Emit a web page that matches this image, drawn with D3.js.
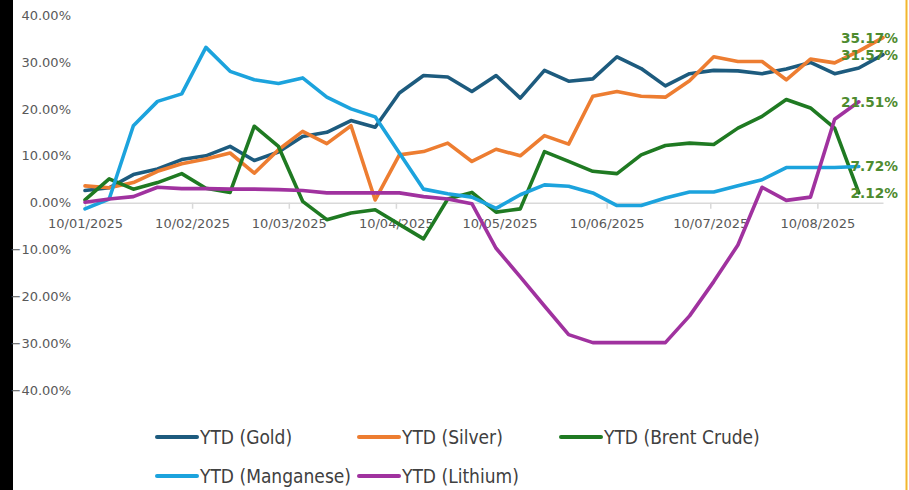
<!DOCTYPE html>
<html><head><meta charset="utf-8">
<script src="https://cdn.jsdelivr.net/npm/d3@7"></script>
<style>body{margin:0;background:#fff}svg{display:block}</style>
</head><body>
<svg id="c" width="909" height="490"></svg>
<script>
// ---- data ----
const dates = ["2025-01-10","2025-01-17","2025-01-24","2025-01-31","2025-02-07","2025-02-14","2025-02-21","2025-02-28",
  "2025-03-07","2025-03-14","2025-03-21","2025-03-28","2025-04-04","2025-04-11","2025-04-18","2025-04-25",
  "2025-05-02","2025-05-09","2025-05-16","2025-05-23","2025-05-30","2025-06-06","2025-06-13","2025-06-20","2025-06-27",
  "2025-07-04","2025-07-11","2025-07-18","2025-07-25","2025-08-01","2025-08-08","2025-08-15","2025-08-22","2025-08-29"];
const gold = [2.6,3.2,6.0,7.2,9.2,10.0,12.0,9.0,10.8,14.1,15.0,17.5,16.1,23.4,27.1,26.8,23.7,27.1,22.3,28.2,25.9,26.4,31.1,28.6,24.9,27.5,28.2,28.1,27.5,28.5,29.9,27.5,28.7,31.57];
const silver = [3.6,3.2,4.3,6.7,8.3,9.3,10.6,6.3,11.3,15.2,12.6,16.4,0.6,10.2,10.9,12.7,8.8,11.4,10.0,14.3,12.5,22.7,23.7,22.7,22.5,26.0,31.1,30.1,30.1,26.2,30.6,29.8,32.3,35.17];
const brent = [0.6,5.1,2.9,4.3,6.2,3.1,2.2,16.3,12.0,0.3,-3.6,-2.2,-1.5,-4.6,-7.7,0.8,2.2,-2.0,-1.3,10.9,8.8,6.7,6.2,10.2,12.2,12.7,12.4,15.9,18.4,22.0,20.2,15.9,2.12,null];
const manganese = [-1.3,0.8,16.4,21.6,23.2,33.1,28.0,26.2,25.4,26.6,22.5,20.0,18.3,10.6,2.9,1.9,1.2,-1.2,1.7,3.8,3.5,2.1,-0.6,-0.6,1.0,2.3,2.3,3.6,4.9,7.5,7.5,7.5,7.72,null];
const lithium = [0.1,0.8,1.3,3.3,3.0,3.0,2.9,2.9,2.8,2.6,2.1,2.1,2.1,2.1,1.3,0.8,-0.2,-9.7,-15.8,-22.0,-28.1,-29.8,-29.8,-29.8,-29.8,-24.1,-16.8,-9.0,3.3,0.5,1.2,17.8,21.51,null];
const seriesNames = ["YTD (Gold)","YTD (Silver)","YTD (Brent Crude)","YTD (Manganese)","YTD (Lithium)"];
const seriesColors = ["#1d5b7e","#ed7d31","#1f7a22","#1ca3dd","#a0329f"];
const xTickDates = ["2025-01-10","2025-02-10","2025-03-10","2025-04-10","2025-05-10","2025-06-10","2025-07-10","2025-08-10"];
const yTicks = [0.4,0.3,0.2,0.1,0,-0.1,-0.2,-0.3,-0.4];

// ---- chart ----
const W = 909, H = 490;
const parse = d3.timeParse("%Y-%m-%d");
const dts = dates.map(parse);
const all = [gold, silver, brent, manganese, lithium];
const svg = d3.select("#c");
svg.append("rect").attr("x",0).attr("y",0).attr("width",W).attr("height",H).attr("fill","#fff");
svg.append("rect").attr("x",0).attr("y",0).attr("width",13).attr("height",H).attr("fill","#000");
svg.append("line").attr("x1",W-2.5).attr("x2",W-2.5).attr("y1",0).attr("y2",H).attr("stroke","#f2b62c").attr("stroke-width",2);

const x = d3.scaleTime().domain([dts[0], dts[dts.length-1]]).range([85, 883]);
const y = d3.scaleLinear().domain([-0.4, 0.4]).range([390.5, 15]);

// y axis
const ya = svg.append("g").attr("transform","translate(74,0)")
  .call(d3.axisLeft(y).tickValues(yTicks).tickSize(0).tickPadding(3).tickFormat(d3.format(".2%")));
ya.select(".domain").remove();
ya.selectAll("text").attr("font-family","DejaVu Sans").attr("font-size",13).attr("fill","#595959");

// x axis
const xa = svg.append("g").attr("transform",`translate(0,${y(0)})`)
  .call(d3.axisBottom(x).tickValues(xTickDates.map(parse)).tickSize(6).tickSizeOuter(0).tickPadding(10).tickFormat(d3.timeFormat("%d/%m/%Y")));
xa.select(".domain").attr("stroke","#d9d9d9").attr("stroke-width",1.5);
xa.selectAll(".tick line").attr("stroke","#d9d9d9").attr("stroke-width",1.5);
xa.selectAll("text").attr("font-family","DejaVu Sans").attr("font-size",13).attr("fill","#595959");

// lines
const line = d3.line().defined(d => d != null).x((d,i) => x(dts[i])).y(d => y(d/100));
all.forEach((vals, k) => {
  svg.append("path").datum(vals).attr("d", line).attr("fill","none")
    .attr("stroke", seriesColors[k]).attr("stroke-width",3.6)
    .attr("stroke-linejoin","round").attr("stroke-linecap","round");
});

// end labels
all.forEach((vals) => {
  let i = vals.length - 1; while (vals[i] == null) i--;
  svg.append("text").attr("x", W - 11).attr("y", y(vals[i]/100)).attr("dy","0.36em")
    .attr("text-anchor","end").attr("font-family","DejaVu Sans").attr("font-weight","bold")
    .attr("font-size",13.7).attr("fill","#4e8b2f").text(vals[i].toFixed(2) + "%");
});

// legend
const lg = svg.append("g");
seriesNames.forEach((n, k) => {
  const col = k % 3, row = Math.floor(k / 3);
  const lx = 157 + col * 202, ly = 437 + row * 39;
  lg.append("line").attr("x1", lx).attr("x2", lx + 40).attr("y1", ly).attr("y2", ly)
    .attr("stroke", seriesColors[k]).attr("stroke-width", 4).attr("stroke-linecap","round");
  lg.append("text").attr("x", lx + 43).attr("y", ly).attr("dy","0.35em")
    .attr("font-family","DejaVu Sans Condensed, DejaVu Sans").attr("font-size",19)
    .attr("fill","#404040").text(n);
});
</script>
</body></html>
